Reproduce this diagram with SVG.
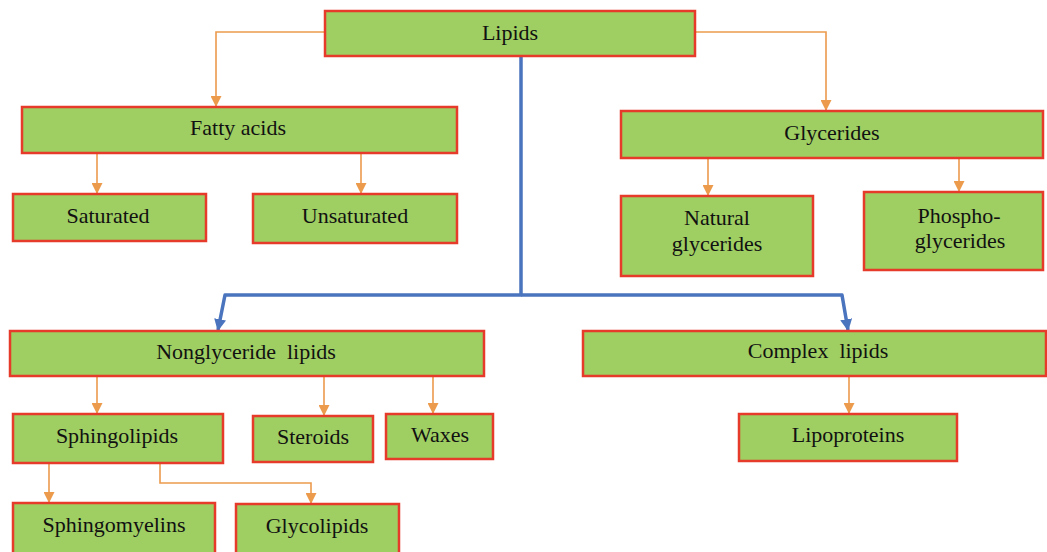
<svg xmlns="http://www.w3.org/2000/svg" width="1047" height="552" viewBox="0 0 1047 552">
  <defs>
    <marker id="arrow-orange" viewBox="0 0 10 10" refX="10" refY="5" markerWidth="11" markerHeight="11" markerUnits="userSpaceOnUse" orient="auto">
      <path d="M0,0 L10,5 L0,10 Z" fill="#ec9a4c"/>
    </marker>
    <marker id="arrow-blue" viewBox="0 0 10 10" refX="9" refY="5" markerWidth="12" markerHeight="12" markerUnits="userSpaceOnUse" orient="auto">
      <path d="M0,0 L10,5 L0,10 Z" fill="#4a74bd"/>
    </marker>
    <style>
      .box { fill: #9fce63; stroke: #e63b2b; stroke-width: 2.5; }
      .label { font-family: "Liberation Serif", "Times New Roman", serif; font-size: 22px; fill: #111; text-anchor: middle; }
      .link { fill: none; stroke: #ec9a4c; stroke-width: 1.6; marker-end: url(#arrow-orange); }
      .main { fill: none; stroke: #4a74bd; stroke-width: 3.5; stroke-linejoin: round; marker-end: url(#arrow-blue); }
    </style>
  </defs>

  <rect width="1047" height="552" fill="#ffffff"/>

  <g id="connectors">
    <path class="link" d="M325,32 H216 V107"/>
    <path class="link" d="M695,32 H826 V111"/>
    <path class="link" d="M97,154 V194"/>
    <path class="link" d="M361,154 V194"/>
    <path class="link" d="M708,159 V196"/>
    <path class="link" d="M959,159 V192"/>
    <path class="main" d="M521,57 V295 H225 L218,330"/>
    <path class="main" d="M521,295 H842 L848,330"/>
    <path class="link" d="M97,377 V414"/>
    <path class="link" d="M324,377 V416"/>
    <path class="link" d="M433,377 V414"/>
    <path class="link" d="M849,377 V414"/>
    <path class="link" d="M49,464 V503"/>
    <path class="link" d="M160,464 V483 H311 V504"/>
  </g>

  <g id="node-lipids">
    <rect class="box" x="325" y="11" width="370" height="45"/>
    <text class="label" x="510" y="40">Lipids</text>
  </g>
  <g id="node-fatty-acids">
    <rect class="box" x="22" y="107" width="435" height="46"/>
    <text class="label" x="238" y="135">Fatty acids</text>
  </g>
  <g id="node-saturated">
    <rect class="box" x="13" y="194" width="193" height="47"/>
    <text class="label" x="108" y="223">Saturated</text>
  </g>
  <g id="node-unsaturated">
    <rect class="box" x="253" y="194" width="204" height="49"/>
    <text class="label" x="355" y="223">Unsaturated</text>
  </g>
  <g id="node-glycerides">
    <rect class="box" x="621" y="111" width="422" height="47"/>
    <text class="label" x="832" y="140">Glycerides</text>
  </g>
  <g id="node-natural-glycerides">
    <rect class="box" x="621" y="196" width="192" height="80"/>
    <text class="label" x="717" y="225">Natural</text>
    <text class="label" x="717" y="251">glycerides</text>
  </g>
  <g id="node-phosphoglycerides">
    <rect class="box" x="864" y="192" width="179" height="78"/>
    <text class="label" x="959" y="223">Phospho-</text>
    <text class="label" x="960" y="248">glycerides</text>
  </g>
  <g id="node-nonglyceride-lipids">
    <rect class="box" x="10" y="331" width="474" height="45"/>
    <text class="label" x="246" y="359" xml:space="preserve">Nonglyceride  lipids</text>
  </g>
  <g id="node-complex-lipids">
    <rect class="box" x="583" y="331" width="463" height="45"/>
    <text class="label" x="818" y="358" xml:space="preserve">Complex  lipids</text>
  </g>
  <g id="node-sphingolipids">
    <rect class="box" x="13" y="414" width="210" height="49"/>
    <text class="label" x="117" y="443">Sphingolipids</text>
  </g>
  <g id="node-steroids">
    <rect class="box" x="253" y="416" width="120" height="46"/>
    <text class="label" x="313" y="444">Steroids</text>
  </g>
  <g id="node-waxes">
    <rect class="box" x="386" y="414" width="107" height="45"/>
    <text class="label" x="440" y="442">Waxes</text>
  </g>
  <g id="node-lipoproteins">
    <rect class="box" x="739" y="414" width="218" height="47"/>
    <text class="label" x="848" y="442">Lipoproteins</text>
  </g>
  <g id="node-sphingomyelins">
    <rect class="box" x="13" y="503" width="202" height="60"/>
    <text class="label" x="114" y="532">Sphingomyelins</text>
  </g>
  <g id="node-glycolipids">
    <rect class="box" x="236" y="504" width="163" height="60"/>
    <text class="label" x="317" y="533">Glycolipids</text>
  </g>
</svg>
